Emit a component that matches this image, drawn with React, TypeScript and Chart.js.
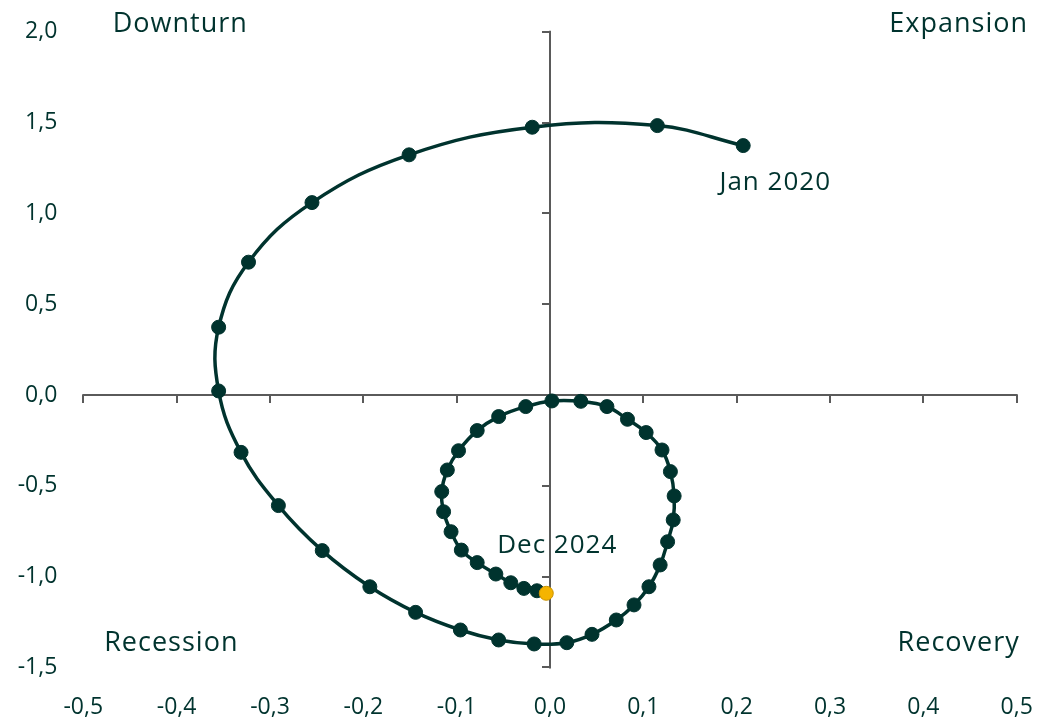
import React, { useEffect, useRef } from "react";
import { Chart, registerables } from "chart.js";

Chart.register(...registerables);

// Monthly trajectory (x = change, y = level), Jan 2020 ... Dec 2024
const xValues = [
  0.207, 0.115, -0.019, -0.151, -0.255, -0.323, -0.355, -0.355, -0.331, -0.291,
  -0.244, -0.193, -0.144, -0.096, -0.055, -0.017, 0.018, 0.045, 0.071, 0.09,
  0.106, 0.118, 0.126, 0.132, 0.133, 0.129, 0.12, 0.103, 0.083, 0.061,
  0.033, 0.002, -0.026, -0.055, -0.078, -0.098, -0.11, -0.116, -0.114, -0.106,
  -0.095, -0.078, -0.058, -0.042, -0.028, -0.014, -0.004,
];
const yValues = [
  1.373, 1.483, 1.474, 1.322, 1.059, 0.731, 0.373, 0.022, -0.316, -0.609,
  -0.857, -1.056, -1.197, -1.294, -1.349, -1.371, -1.364, -1.318, -1.239, -1.156,
  -1.056, -0.936, -0.808, -0.688, -0.556, -0.422, -0.303, -0.207, -0.134, -0.064,
  -0.035, -0.033, -0.064, -0.119, -0.196, -0.307, -0.413, -0.532, -0.643, -0.753,
  -0.854, -0.923, -0.986, -1.034, -1.065, -1.078, -1.092,
];

const xTickValues = [-0.5, -0.4, -0.3, -0.2, -0.1, 0, 0.1, 0.2, 0.3, 0.4, 0.5];
const yTickValues = [-1.5, -1.0, -0.5, 0, 0.5, 1.0, 1.5, 2.0];

const quadrantLabels = ["Downturn", "Expansion", "Recession", "Recovery"];
const startLabel = "Jan 2020";
const endLabel = "Dec 2024";

const INK = "#00332e";
const AXIS = "#5a5a5a";
const HIGHLIGHT = "#f5b400";
const HIGHLIGHT_BORDER = "#c99200";
const FONT = "'Open Sans', 'Noto Sans', sans-serif";

const fmt = (v: number | string) =>
  Number(v).toFixed(1).replace(".", ",").replace("-0,0", "0,0");

// Axes crossing at zero, with outward tick marks
const crossAxesPlugin = {
  id: "crossAxes",
  beforeDatasetsDraw(chart: any) {
    const { ctx, chartArea } = chart;
    const xs = chart.scales.x;
    const ys = chart.scales.y;
    const x0 = Math.round(xs.getPixelForValue(0));
    const y0 = Math.round(ys.getPixelForValue(0));
    ctx.save();
    ctx.strokeStyle = AXIS;
    ctx.lineWidth = 2;
    ctx.lineCap = "butt";
    ctx.beginPath();
    ctx.moveTo(chartArea.left - 1, y0);
    ctx.lineTo(chartArea.right + 1, y0);
    xTickValues.forEach((v) => {
      const px = Math.round(xs.getPixelForValue(v));
      ctx.moveTo(px, y0);
      ctx.lineTo(px, y0 + 8);
    });
    ctx.moveTo(x0, chartArea.top - 1);
    ctx.lineTo(x0, chartArea.bottom + 1);
    yTickValues.forEach((v) => {
      const py = Math.round(ys.getPixelForValue(v));
      ctx.moveTo(x0, py);
      ctx.lineTo(x0 - 8, py);
    });
    ctx.stroke();
    ctx.restore();
  },
};

const textPlugin = {
  id: "quadrantText",
  afterDraw(chart: any) {
    const { ctx, chartArea } = chart;
    const xs = chart.scales.x;
    const ys = chart.scales.y;
    ctx.save();
    ctx.fillStyle = INK;
    ctx.textAlign = "center";
    ctx.textBaseline = "middle";
    (ctx as any).letterSpacing = "1px";
    ctx.font = `27px ${FONT}`;
    ctx.fillText(quadrantLabels[0], chartArea.left + 97, chartArea.top - 7);
    ctx.fillText(quadrantLabels[1], chartArea.right - 58, chartArea.top - 7);
    ctx.fillText(quadrantLabels[2], chartArea.left + 88, chartArea.bottom - 24);
    ctx.fillText(quadrantLabels[3], chartArea.right - 58, chartArea.bottom - 24);

    ctx.font = `26px ${FONT}`;
    const n = xValues.length - 1;
    const sx = xs.getPixelForValue(xValues[0]);
    const sy = ys.getPixelForValue(yValues[0]);
    ctx.fillText(startLabel, sx + 32, sy + 37);
    const ex = xs.getPixelForValue(xValues[n]);
    const ey = ys.getPixelForValue(yValues[n]);
    ctx.fillText(endLabel, ex + 11, ey - 48);
    ctx.restore();
  },
};

export default function App() {
  const canvasRef = useRef<HTMLCanvasElement | null>(null);

  useEffect(() => {
    const canvas = canvasRef.current;
    if (!canvas) return;
    const points = xValues.map((x, i) => ({ x, y: yValues[i] }));
    const last = points.length - 1;
    const chart = new Chart(canvas, {
      type: "scatter",
      data: {
        datasets: [
          {
            data: points,
            showLine: true,
            tension: 0.4,
            borderColor: INK,
            borderWidth: 3.5,
            pointRadius: 7,
            pointHoverRadius: 7,
            pointBackgroundColor: (c: any) => (c.dataIndex === last ? HIGHLIGHT : INK),
            pointBorderColor: (c: any) => (c.dataIndex === last ? HIGHLIGHT_BORDER : INK),
            pointBorderWidth: 1,
            clip: false,
          } as any,
        ],
      },
      options: {
        responsive: false,
        animation: false,
        layout: { autoPadding: false, padding: { top: 31.7, right: 24.3, left: 0, bottom: 0 } },
        plugins: { legend: { display: false }, tooltip: { enabled: false } },
        scales: {
          x: {
            type: "linear",
            position: "bottom",
            min: xTickValues[0],
            max: xTickValues[xTickValues.length - 1],
            afterBuildTicks: (s: any) => {
              s.ticks = xTickValues.map((value) => ({ value }));
            },
            afterFit: (s: any) => {
              s.height = 53.6;
              s.paddingLeft = 0;
              s.paddingRight = 0;
            },
            ticks: {
              callback: (v: any) => fmt(v),
              color: INK,
              font: { family: FONT, size: 23 },
              padding: 26,
              maxRotation: 0,
              autoSkip: false,
            },
            grid: { display: false, drawTicks: false },
            border: { display: false },
          },
          y: {
            type: "linear",
            position: "left",
            min: yTickValues[0],
            max: yTickValues[yTickValues.length - 1],
            afterBuildTicks: (s: any) => {
              s.ticks = yTickValues.map((value) => ({ value }));
            },
            afterFit: (s: any) => {
              s.width = 83.3;
              s.paddingTop = 0;
              s.paddingBottom = 0;
            },
            ticks: {
              callback: (v: any) => fmt(v),
              color: INK,
              font: { family: FONT, size: 23 },
              padding: 26,
              autoSkip: false,
            },
            grid: { display: false, drawTicks: false },
            border: { display: false },
          },
        } as any,
      },
      plugins: [crossAxesPlugin, textPlugin],
    });
    return () => chart.destroy();
  }, []);

  return (
    <div style={{ position: "fixed", left: 0, top: 0, width: 1041, height: 721, background: "#fff" }}>
      <canvas ref={canvasRef} width={1041} height={721} style={{ width: 1041, height: 721, display: "block" }} />
    </div>
  );
}
